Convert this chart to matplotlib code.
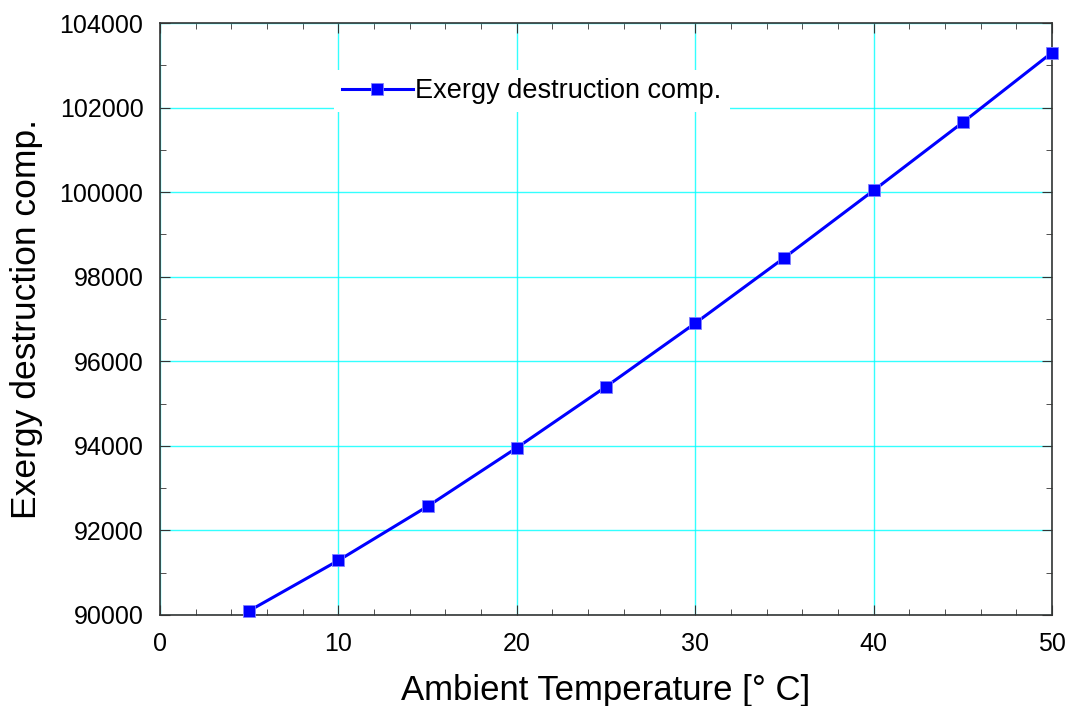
import numpy as np
from matplotlib import pyplot as plt
from matplotlib.ticker import MultipleLocator

plt.rc('font', family=['Liberation Sans', 'DejaVu Sans'])

# data
temp = [5, 10, 15, 20, 25, 30, 35, 40, 45, 50]
exergy = [90100, 91290, 92570, 93955, 95400, 96900, 98450, 100040, 101650, 103300]

fig = plt.figure(figsize=(10.72, 7.06), dpi=100)
ax = fig.add_axes([0.1493, 0.1289, 0.8320, 0.8385])

ax.plot(temp, exergy, color='#0000ff', lw=2.2, marker='s', ms=8,
        mec='#8080ff', mew=0.6, label='Exergy destruction comp.', clip_on=False, zorder=3)

ax.set_xlim(0, 50)
ax.set_ylim(90000, 104000)
ax.xaxis.set_major_locator(MultipleLocator(10))
ax.xaxis.set_minor_locator(MultipleLocator(2))
ax.yaxis.set_major_locator(MultipleLocator(2000))
ax.yaxis.set_minor_locator(MultipleLocator(1000))
ax.tick_params(which='both', direction='in', top=True, right=True, labelsize=18, color='#333333')
ax.tick_params(which='major', length=7)
ax.tick_params(axis='x', which='major', pad=12)
ax.tick_params(axis='y', which='major', pad=12)
ax.tick_params(which='minor', length=4)
for s in ax.spines.values():
    s.set_color('#333333')
    s.set_linewidth(1.2)

ax.grid(True, which='major', color='#00ffff', lw=1.0, alpha=0.8)
ax.set_axisbelow(True)

ax.set_xlabel('Ambient Temperature [° C]', fontsize=25, labelpad=13)
ax.set_ylabel('Exergy destruction comp.', fontsize=25.5, labelpad=12)

leg = ax.legend(loc='center left', bbox_to_anchor=(0.18, 0.885), fontsize=19.5,
                frameon=True, edgecolor='none', fancybox=False, framealpha=1,
                handlelength=2.6, handletextpad=0.1, borderpad=0.3)

fig.savefig('out.png', dpi=100)
